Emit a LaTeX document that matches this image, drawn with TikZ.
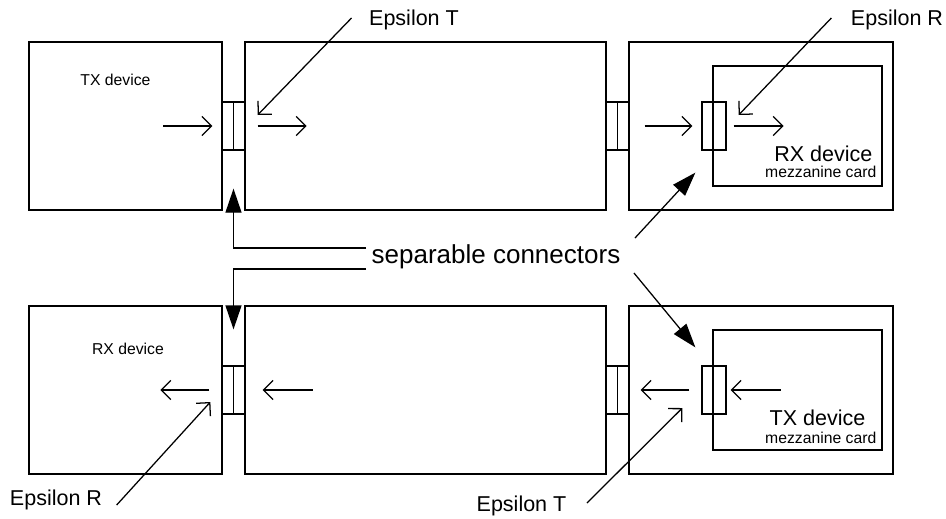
\documentclass[tikz,border=0pt]{standalone}
\usepackage{fontspec}
\setmainfont{Liberation Sans}
\usetikzlibrary{arrows.meta}

\begin{document}
\begin{tikzpicture}[line width=0.9pt,
    every node/.style={inner sep=0pt},
    box/.style={draw, minimum height=4.2cm},
    plug/.style={draw, minimum width=0.575cm, minimum height=1.2cm},
    card/.style={draw, minimum width=4.225cm, minimum height=3cm},
    lblsmall/.style={font=\fontsize{11.2}{13}\selectfont},
    lblmid/.style={font=\fontsize{15.3}{18}\selectfont},
    lblbig/.style={font=\fontsize{18.5}{22}\selectfont},
    flow/.style={-{Straight Barb[length=2.4mm, width=4.8mm]}},
    sepline/.style={-{Triangle[length=6mm, width=4mm]}}]
    \useasboundingbox (0,0) rectangle (23.65,12.95);
    \node[box, minimum width=4.825cm] (txbox) at (3.1375, 9.8) {};
    \node[box, minimum width=9.025cm] (chtop) at (10.6375, 9.8) {};
    \node[box, minimum width=6.6cm] (hosttop) at (19.025, 9.8) {};
    \node[plug] (c1) at (5.8375, 9.8) {};
    \node[plug] (c2) at (15.4375, 9.8) {};
    \node[card] (rxcard) at (19.9375, 9.8) {};
    \node[plug, minimum width=0.6cm] (k1) at (17.85, 9.8) {};
    \draw (c1.north) -- (c1.south);
    \draw (c2.north) -- (c2.south);
    \node[box, minimum width=4.825cm] (rxbox) at (3.1375, 3.2) {};
    \node[box, minimum width=9.025cm] (chbot) at (10.6375, 3.2) {};
    \node[box, minimum width=6.6cm] (hostbot) at (19.025, 3.2) {};
    \node[plug] (c3) at (5.8375, 3.2) {};
    \node[plug] (c4) at (15.4375, 3.2) {};
    \node[card] (txcard) at (19.9375, 3.2) {};
    \node[plug, minimum width=0.6cm] (k2) at (17.85, 3.2) {};
    \draw (c3.north) -- (c3.south);
    \draw (c4.north) -- (c4.south);
    \node[lblsmall, anchor=base] (txname) at (2.8875, 10.8) {TX device};
    \node[lblsmall, anchor=base] (rxname) at (3.2, 4.1) {RX device};
    \node[lblmid, anchor=base east] (rxcardname) at (21.825, 8.925) {RX device};
    \node[lblsmall, anchor=base east] (rxcardsub) at (21.925, 8.525) {mezzanine card};
    \node[lblmid, anchor=base east] (txcardname) at (21.65, 2.325) {TX device};
    \node[lblsmall, anchor=base east] (txcardsub) at (21.925, 1.875) {mezzanine card};
    \node[lblmid, anchor=base] (epsT1) at (10.35, 12.3) {Epsilon T};
    \node[lblmid, anchor=base] (epsR1) at (22.425, 12.3) {Epsilon R};
    \node[lblmid, anchor=base] (epsR2) at (1.4, 0.325) {Epsilon R};
    \node[lblmid, anchor=base] (epsT2) at (13.0375, 0.175) {Epsilon T};
    \node[lblbig, anchor=base] (sep) at (12.4, 6.375) {separable connectors};
    \draw[flow] ([xshift=-1.45cm]c1.west) -- ([xshift=-0.225cm]c1.west);
    \draw[flow] ([xshift=0.3cm]c1.east) -- ([xshift=1.525cm]c1.east);
    \draw[flow] ([xshift=0.375cm]c2.east) -- ([xshift=-0.225cm]k1.west);
    \draw[flow] ([xshift=0.175cm]k1.east) -- ([xshift=1.425cm]k1.east);
    \draw[flow] ([xshift=-0.3cm]c3.west) -- ([xshift=-1.525cm]c3.west);
    \draw[flow] ([xshift=1.675cm]c3.east) -- ([xshift=0.425cm]c3.east);
    \draw[flow] ([xshift=-0.3cm]k2.west) -- ([xshift=0.275cm]c4.east);
    \draw[flow] ([xshift=1.35cm]k2.east) -- ([xshift=0.1cm]k2.east);
    \draw[flow] ([shift={(-0.425,0.2)}]epsT1.base west) -- ([shift={(0.3,0.275)}]c1.east);
    \draw[flow] ([shift={(-0.475,0.2)}]epsR1.base west) -- ([shift={(0.3,0.275)}]k1.east);
    \draw[flow] ([shift={(0.35,0)}]epsR2.base east) -- ([shift={(-0.275,-0.3)}]c3.west);
    \draw[flow] ([shift={(0.5,0.2)}]epsT2.base east) -- ([shift={(-0.475,-0.45)}]k2.west);
    \draw[sepline] ([shift={(-0.125,0.375)}]sep.base west) -| ([yshift=-0.95cm]c1.south);
    \draw[sepline] ([shift={(-0.125,-0.15)}]sep.base west) -| ([yshift=0.9cm]c3.north);
    \draw[sepline] ([shift={(0.35,0.625)}]sep.base east) -- ([shift={(-0.15,-0.55)}]k1.south west);
    \draw[sepline] ([shift={(0.325,-0.25)}]sep.base east) -- ([shift={(-0.15,0.45)}]k2.north west);
\end{tikzpicture}
\end{document}
